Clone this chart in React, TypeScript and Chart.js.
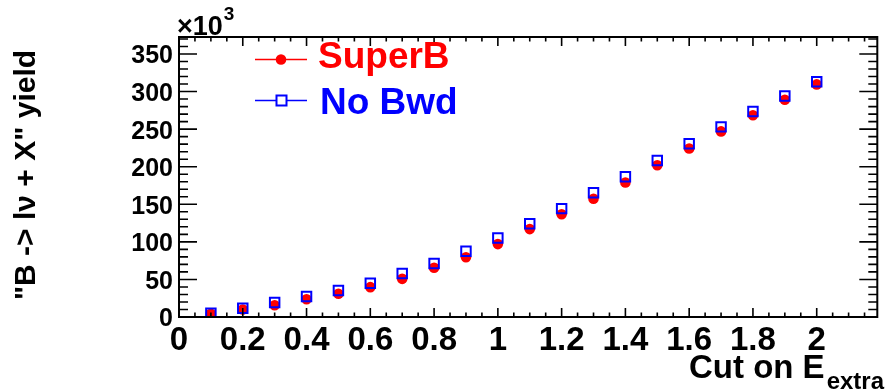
import React, { useEffect, useRef } from 'react';
import { Chart, registerables } from 'chart.js';

Chart.register(...registerables);

// ---- data (yield in units of 10^3) ----
const cutValues = [0.1, 0.2, 0.3, 0.4, 0.5, 0.6, 0.7, 0.8, 0.9, 1.0, 1.1, 1.2, 1.3, 1.4, 1.5, 1.6, 1.7, 1.8, 1.9, 2.0];
const superBYield = [4.3, 10, 15.7, 23.7, 30.9, 39.7, 50.8, 65.5, 79.6, 97, 117, 136.7, 157.3, 179, 202, 224.3, 247, 268.5, 289, 309.5];
const noBwdYield = [5, 11.7, 19.3, 27.3, 35.3, 45, 57.9, 71.2, 87.6, 105, 124, 144.2, 165.3, 186.6, 208.4, 230.4, 253, 273.5, 294, 313];

const xTickValues = [0, 0.2, 0.4, 0.6, 0.8, 1.0, 1.2, 1.4, 1.6, 1.8, 2.0];
const xTickLabels = ['0', '0.2', '0.4', '0.6', '0.8', '1', '1.2', '1.4', '1.6', '1.8', '2'];
const yTickValues = [0, 50, 100, 150, 200, 250, 300, 350];
const yTickLabels = ['0', '50', '100', '150', '200', '250', '300', '350'];

const seriesNames = ['SuperB', 'No Bwd'];
const xTitle = 'Cut on E';
const xTitleSub = 'extra';
const yTitle = '"B -> l\u03BD + X" yield';
const exponentBase = '\u00D710';
const exponentPower = '3';

const X_MAX = 2.19;
const Y_MAX = 372.6;

const FONT = '"Liberation Sans", Arial, Helvetica, sans-serif';
const RED = '#ff0000';
const BLUE = '#0000ff';

const rootFramePlugin = {
  id: 'rootFrame',
  afterDraw(chart: any) {
    const { ctx, chartArea: a, scales } = chart;
    const xs = scales.x;
    const ys = scales.y;
    ctx.save();
    ctx.strokeStyle = '#000';
    ctx.lineWidth = 2;
    ctx.strokeRect(a.left, a.top, a.right - a.left, a.bottom - a.top);

    ctx.lineWidth = 1.6;
    ctx.beginPath();
    for (let i = 0; i * 0.05 <= xs.max + 1e-9; i++) {
      const px = xs.getPixelForValue(i * 0.05);
      const len = i % 4 === 0 ? 9 : 4.5;
      ctx.moveTo(px, a.bottom);
      ctx.lineTo(px, a.bottom - len);
      ctx.moveTo(px, a.top);
      ctx.lineTo(px, a.top + len);
    }
    for (let i = 0; i * 10 <= ys.max + 1e-9; i++) {
      const py = ys.getPixelForValue(i * 10);
      const len = i % 5 === 0 ? 18 : 9;
      ctx.moveTo(a.left, py);
      ctx.lineTo(a.left + len, py);
      ctx.moveTo(a.right, py);
      ctx.lineTo(a.right - len, py);
    }
    ctx.stroke();

    // exponent label
    ctx.fillStyle = '#000';
    ctx.textAlign = 'left';
    ctx.textBaseline = 'alphabetic';
    ctx.font = `bold 27px ${FONT}`;
    ctx.fillText(exponentBase, a.left - 2, 35);
    const w = ctx.measureText(exponentBase).width;
    ctx.font = `bold 19px ${FONT}`;
    ctx.fillText(exponentPower, a.left - 2 + w + 1, 20);

    // x title with subscript
    ctx.font = `bold 24px ${FONT}`;
    const subW = ctx.measureText(xTitleSub).width;
    ctx.textAlign = 'right';
    ctx.fillText(xTitleSub, 884, 389);
    ctx.font = `bold 33px ${FONT}`;
    ctx.fillText(xTitle, 884 - subW - 2, 378);

    // y title rotated
    ctx.save();
    ctx.translate(35, 175);
    ctx.rotate(-Math.PI / 2);
    ctx.textAlign = 'center';
    ctx.font = `bold 30px ${FONT}`;
    ctx.fillText(yTitle, 0, 0);
    ctx.restore();

    // legend
    ctx.lineWidth = 1.5;
    ctx.strokeStyle = RED;
    ctx.beginPath();
    ctx.moveTo(255, 59.5);
    ctx.lineTo(307, 59.5);
    ctx.stroke();
    ctx.fillStyle = RED;
    ctx.beginPath();
    ctx.arc(281, 59.5, 5.3, 0, Math.PI * 2);
    ctx.fill();
    ctx.textAlign = 'left';
    ctx.font = `bold 37px ${FONT}`;
    ctx.fillText(seriesNames[0], 318, 68);

    ctx.strokeStyle = BLUE;
    ctx.beginPath();
    ctx.moveTo(255, 100.5);
    ctx.lineTo(307, 100.5);
    ctx.stroke();
    ctx.fillStyle = '#fff';
    ctx.fillRect(276.5, 95.5, 10, 10);
    ctx.lineWidth = 2;
    ctx.strokeRect(276.5, 95.5, 10, 10);
    ctx.fillStyle = BLUE;
    ctx.fillText(seriesNames[1], 320, 114);
    ctx.restore();
  },
};

export default function App() {
  const canvasRef = useRef<HTMLCanvasElement | null>(null);

  useEffect(() => {
    if (!canvasRef.current) return;
    const chart = new Chart(canvasRef.current, {
      type: 'scatter',
      data: {
        datasets: [
          {
            label: seriesNames[1],
            data: cutValues.map((x, i) => ({ x, y: noBwdYield[i] })),
            pointStyle: 'rect',
            pointRadius: 6.7,
            borderColor: BLUE,
            backgroundColor: 'rgba(0,0,0,0)',
            pointBorderWidth: 2,
            showLine: false,
            order: 0,
          },
          {
            label: seriesNames[0],
            data: cutValues.map((x, i) => ({ x, y: superBYield[i] })),
            pointStyle: 'circle',
            pointRadius: 5.3,
            borderColor: RED,
            backgroundColor: RED,
            pointBorderWidth: 0,
            showLine: false,
            order: 1,
          },
        ],
      },
      options: {
        animation: false,
        responsive: false,
        maintainAspectRatio: false,
        layout: { padding: { top: 37, right: 1, left: 0, bottom: 0 } },
        plugins: { legend: { display: false }, tooltip: { enabled: false } },
        scales: {
          x: {
            type: 'linear',
            min: 0,
            max: X_MAX,
            grid: { display: false, drawTicks: false },
            border: { display: false },
            afterBuildTicks: (s: any) => {
              s.ticks = xTickValues.map((v) => ({ value: v }));
            },
            afterFit: (s: any) => {
              s.height = 74;
            },
            ticks: {
              autoSkip: false,
              maxRotation: 0,
              padding: 4,
              color: '#000',
              font: { family: FONT, size: 33, weight: 'bold' },
              callback: (_v: any, i: number) => xTickLabels[i],
            },
          },
          y: {
            type: 'linear',
            min: 0,
            max: Y_MAX,
            grid: { display: false, drawTicks: false },
            border: { display: false },
            afterBuildTicks: (s: any) => {
              s.ticks = yTickValues.map((v) => ({ value: v }));
            },
            afterFit: (s: any) => {
              s.width = 179;
            },
            ticks: {
              autoSkip: false,
              padding: 6,
              labelOffset: 2.5,
              color: '#000',
              font: { family: FONT, size: 25, weight: 'bold' },
              callback: (_v: any, i: number) => yTickLabels[i],
            },
          },
        },
      },
      plugins: [rootFramePlugin],
    } as any);
    return () => chart.destroy();
  }, []);

  return (
    <div style={{ position: 'absolute', left: 0, top: 0, width: 886, height: 391, background: '#fff' }}>
      <canvas ref={canvasRef} width={886} height={391} style={{ display: 'block' }} />
    </div>
  );
}
